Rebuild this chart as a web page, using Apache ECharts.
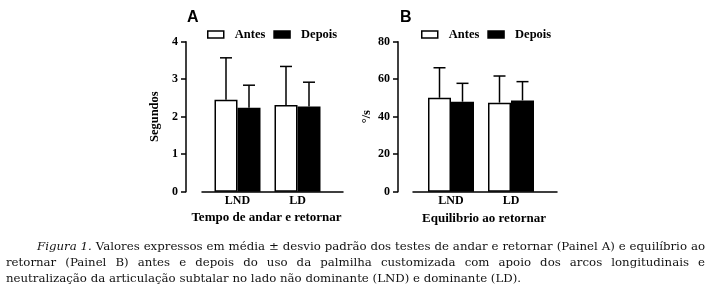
<!DOCTYPE html>
<html><head><meta charset="utf-8">
<script src="https://cdn.jsdelivr.net/npm/echarts@6/dist/echarts.min.js"></script>
<style>html,body{margin:0;padding:0;background:#fff}#c{width:710px;height:301px}</style>
</head><body><div id="c"></div>
<script>
// ---- data ----
const categories = ['LND', 'LD'];
const seriesNames = ['Antes', 'Depois'];
// Panel A: Tempo de andar e retornar (segundos)
const aAntesMean = [2.45, 2.31];
const aAntesSD = [1.12, 1.03];
const aDepoisMean = [2.24, 2.27];
const aDepoisSD = [0.60, 0.65];
// Panel B: Equilibrio ao retornar (°/s)
const bAntesMean = [50.1, 47.5];
const bAntesSD = [16.0, 14.2];
const bDepoisMean = [48.0, 48.7];
const bDepoisSD = [9.8, 10.0];
const aTicks = [0, 1, 2, 3, 4];
const bTicks = [0, 20, 40, 60, 80];
const captionLines = [
  'Figura 1. Valores expressos em média ± desvio padrão dos testes de andar e retornar (Painel A) e equilíbrio ao',
  'retornar (Painel B) antes e depois do uso da palmilha customizada com apoio dos arcos longitudinais e',
  'neutralização da articulação subtalar no lado não dominante (LND) e dominante (LD).'
];

// ---- chart ----
const chart = echarts.init(document.getElementById('c'), null, {renderer: 'canvas'});
const SERIF = '"Liberation Serif", "Times New Roman", serif';
const CAPFONT = '"DejaVu Serif", "Liberation Serif", serif';
const BAR_W = 23;
const axisLbl = {color: '#000', fontFamily: SERIF, fontWeight: 'bold', fontSize: 12};

function yAxisCfg(gi, ticks, name, offset) {
  return {
    type: 'value', gridIndex: gi, min: ticks[0], max: ticks[ticks.length - 1],
    interval: ticks[1] - ticks[0], offset: offset,
    name: name, nameLocation: 'middle', nameRotate: 90, nameGap: 25,
    nameTextStyle: {color: '#000', fontFamily: SERIF, fontWeight: 'bold', fontSize: 12.5},
    axisLine: {show: true, lineStyle: {color: '#000', width: 1.5}},
    axisTick: {show: true, length: 5, lineStyle: {color: '#000', width: 1.5}},
    axisLabel: Object.assign({margin: 8}, axisLbl),
    splitLine: {show: false}
  };
}
function catAxisCfg(gi) {
  return {
    type: 'category', gridIndex: gi, data: categories,
    axisLine: {show: false}, axisTick: {show: false},
    axisLabel: Object.assign({margin: 3}, axisLbl)
  };
}
function helperX(gi) {
  return {type: 'value', gridIndex: gi, min: 0, max: 1,
    axisLine: {show: true, lineStyle: {color: '#000', width: 1.5}},
    axisTick: {show: false}, axisLabel: {show: false}, splitLine: {show: false}};
}
function helperY(gi) {
  return {type: 'value', gridIndex: gi, show: false, min: 0, max: 1};
}
function barSeries(name, xi, yi, vals, fill) {
  return {
    type: 'bar', name: name, xAxisIndex: xi, yAxisIndex: yi, data: vals,
    barWidth: BAR_W, barGap: '0%',
    itemStyle: {color: fill, borderColor: '#000', borderWidth: 1.5},
    emphasis: {disabled: true}, z: 2
  };
}
function errSeries(name, xi, yi, means, sds, side) {
  return {
    type: 'custom', name: name, xAxisIndex: xi, yAxisIndex: yi,
    data: means.map((m, i) => [i, m, sds[i]]),
    z: 3,
    renderItem: function (params, api) {
      const ci = api.value(0), m = api.value(1), sd = api.value(2);
      const p0 = api.coord([ci, m]);
      const p1 = api.coord([ci, m + sd]);
      const x = p0[0] + side * BAR_W / 2;
      const cap = 6;
      const st = {stroke: '#000', lineWidth: 1.5, fill: null};
      return {type: 'group', children: [
        {type: 'line', shape: {x1: x, y1: p0[1], x2: x, y2: p1[1]}, style: st},
        {type: 'line', shape: {x1: x - cap, y1: p1[1], x2: x + cap, y2: p1[1]}, style: st}
      ]};
    }
  };
}

const TOP = 41.7, H = 150;
const legendText = {color: '#000', fontFamily: SERIF, fontWeight: 'bold', fontSize: 12.5, padding: [0, 0, 0, 6]};
const legendData = [
  {name: 'Antes', itemStyle: {color: '#fff', borderColor: '#000', borderWidth: 1.5}},
  {name: 'Depois', itemStyle: {color: '#000', borderColor: '#000', borderWidth: 1.5}}
];

// caption as justified words
const measureCtx = document.createElement('canvas').getContext('2d');
function fontStr(size, italic) { return (italic ? 'italic ' : '') + size + 'px ' + CAPFONT; }
function wordW(w, size, italic) { measureCtx.font = fontStr(size, italic); return measureCtx.measureText(w).width; }
// size caption so the first line, with normal spaces, fits its justified width
function naturalW(line, size, italicCount) {
  const words = line.split(' ');
  let t = 0;
  words.forEach((w, i) => { t += wordW(w, size, i < italicCount); });
  return t + (words.length - 1) * wordW(' ', size, false);
}
const capSize = Math.min(13.5, 665 * 100 / naturalW(captionLines[0], 100, 2));
const lineSpec = [
  {x0: 37, x1: 705, y: 247, justify: true},
  {x0: 6, x1: 705, y: 263, justify: true},
  {x0: 6, x1: 705, y: 279, justify: false}
];
const captionEls = [];
captionLines.forEach((line, li) => {
  const words = line.split(' ');
  const spec = lineSpec[li];
  const italics = words.map((w, wi) => li === 0 && wi < 2);
  const widths = words.map((w, wi) => wordW(w, capSize, italics[wi]));
  const total = widths.reduce((a, b) => a + b, 0);
  const gap = spec.justify ? (spec.x1 - spec.x0 - total) / (words.length - 1) : wordW(' ', capSize, false);
  let x = spec.x0;
  words.forEach((w, wi) => {
    captionEls.push({type: 'text', x: x, y: spec.y, style: {
      text: w, font: fontStr(capSize, italics[wi]), fill: '#111', textVerticalAlign: 'middle', textAlign: 'left'}});
    x += widths[wi] + gap;
  });
});

const option = {
  animation: false,
  backgroundColor: '#fff',
  grid: [
    {left: 207.5, top: TOP, width: 120, height: H},
    {left: 202, top: TOP, width: 141, height: H},
    {left: 421, top: TOP, width: 120, height: H},
    {left: 413, top: TOP, width: 144, height: H}
  ],
  xAxis: [catAxisCfg(0), helperX(1), catAxisCfg(2), helperX(3)],
  yAxis: [
    yAxisCfg(0, aTicks, 'Segundos', 21.5), helperY(1),
    yAxisCfg(2, bTicks, '°/s', 23), helperY(3)
  ],
  legend: [
    {left: 207, top: 28, itemWidth: 16, itemHeight: 7, itemGap: 8, padding: 0, icon: 'rect',
     selectedMode: false, textStyle: legendText, data: legendData},
    {left: 421, top: 28, itemWidth: 16, itemHeight: 7, itemGap: 8, padding: 0, icon: 'rect',
     selectedMode: false, textStyle: legendText, data: legendData}
  ],
  series: [
    barSeries('Antes', 0, 0, aAntesMean, '#fff'),
    barSeries('Depois', 0, 0, aDepoisMean, '#000'),
    errSeries('Antes', 0, 0, aAntesMean, aAntesSD, -1),
    errSeries('Depois', 0, 0, aDepoisMean, aDepoisSD, 1),
    barSeries('Antes', 2, 2, bAntesMean, '#fff'),
    barSeries('Depois', 2, 2, bDepoisMean, '#000'),
    errSeries('Antes', 2, 2, bAntesMean, bAntesSD, -1),
    errSeries('Depois', 2, 2, bDepoisMean, bDepoisSD, 1)
  ],
  graphic: [
    {type: 'text', x: 187, y: 18, style: {text: 'A', font: 'bold 16px "Liberation Sans", Arial, sans-serif', fill: '#000', textVerticalAlign: 'middle'}},
    {type: 'text', x: 400, y: 18, style: {text: 'B', font: 'bold 16px "Liberation Sans", Arial, sans-serif', fill: '#000', textVerticalAlign: 'middle'}},
    {type: 'text', x: 266.5, y: 218, style: {text: 'Tempo de andar e retornar', font: 'bold 13px ' + SERIF, fill: '#000', textAlign: 'center', textVerticalAlign: 'middle'}},
    {type: 'text', x: 484, y: 219, style: {text: 'Equilibrio ao retornar', font: 'bold 13px ' + SERIF, fill: '#000', textAlign: 'center', textVerticalAlign: 'middle'}}
  ].concat(captionEls)
};
chart.setOption(option);
</script></body></html>
